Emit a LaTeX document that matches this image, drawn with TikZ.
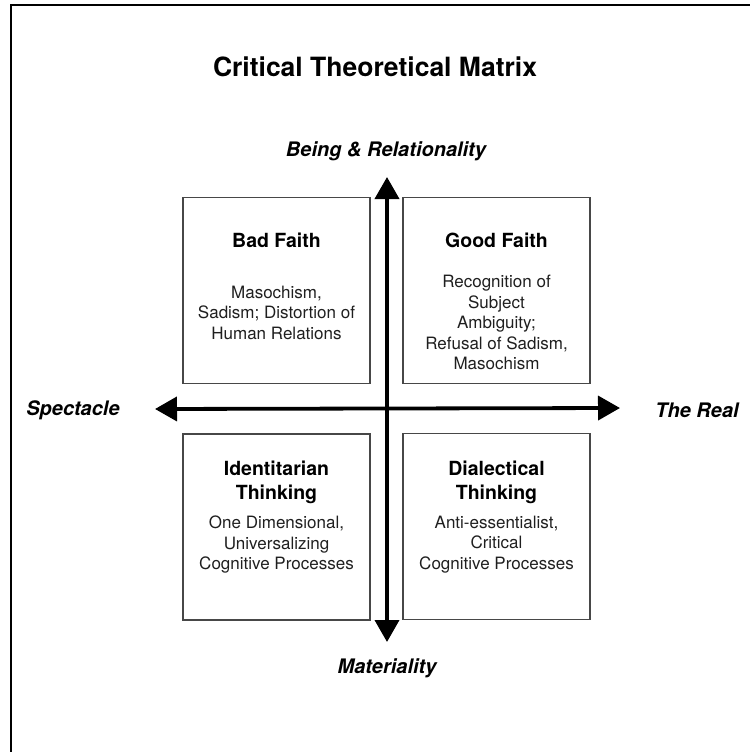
\documentclass[tikz,border=0pt]{standalone}
\usepackage{fontspec}
\setmainfont{TeX Gyre Heros}
\usetikzlibrary{arrows.meta}
\begin{document}
\begin{tikzpicture}[x=1pt,y=-1pt,
  quad/.style={draw=black!72, line width=1.1pt, minimum width=187pt, minimum height=186pt, inner sep=0pt},
  qtitle/.style={font=\fontsize{19.5}{24}\selectfont\bfseries, align=center, inner sep=0pt},
  qbody/.style={font=\fontsize{17}{20.5}\selectfont, text=black!88, align=center, inner sep=0pt},
  axislabel/.style={font=\fontsize{20}{24}\selectfont\bfseries\itshape, inner sep=0pt},
  axis/.style={line width=3.8pt, arrows={Triangle[length=22pt,width=24pt]-Triangle[length=22pt,width=24pt]}}]
\useasboundingbox (0,0) rectangle (750,752);
\draw[line width=2.5pt] (11,752) -- (11,5) -- (750,5);

\node[font=\fontsize{26.5}{30}\selectfont\bfseries, inner sep=0pt] (title) at (375,67) {Critical Theoretical Matrix};

\node[quad] (tl) at (276.5,290.5) {};
\node[quad] (tr) at (496.5,290.5) {};
\node[quad] (bl) at (276.5,527) {};
\node[quad] (br) at (496.5,526.5) {};

\node[qtitle] (tlt) at (276.5,240) {Bad Faith};
\node[qbody] (tlb) at (276.5,312.5) {Masochism,\\Sadism; Distortion of\\Human Relations};
\node[qtitle] (trt) at (496.5,240) {Good Faith};
\node[qbody] (trb) at (496.5,322.5) {Recognition of\\Subject\\Ambiguity;\\Refusal of Sadism,\\Masochism};
\node[qtitle] (blt) at (276.5,482) {Identitarian\\Thinking};
\node[qbody] (blb) at (276.5,544.5) {One Dimensional,\\Universalizing\\Cognitive Processes};
\node[qtitle] (brt) at (496.5,482) {Dialectical\\Thinking};
\node[qbody] (brb) at (496.5,544.5) {Anti-essentialist,\\Critical\\Cognitive Processes};

\coordinate (vtop) at (387,177);
\coordinate (vbot) at (387,642);
\coordinate (hleft) at (155,409);
\coordinate (hright) at (620,408);
\draw[axis] (vtop) -- (vbot);
\draw[axis] (hleft) -- (hright);

\node[axislabel] (being) at (386,151) {Being \& Relationality};
\node[axislabel] (mat) at (387,668) {Materiality};
\node[axislabel] (spec) at (73,410) {Spectacle};
\node[axislabel] (real) at (697,410) {The Real};
\end{tikzpicture}
\end{document}
